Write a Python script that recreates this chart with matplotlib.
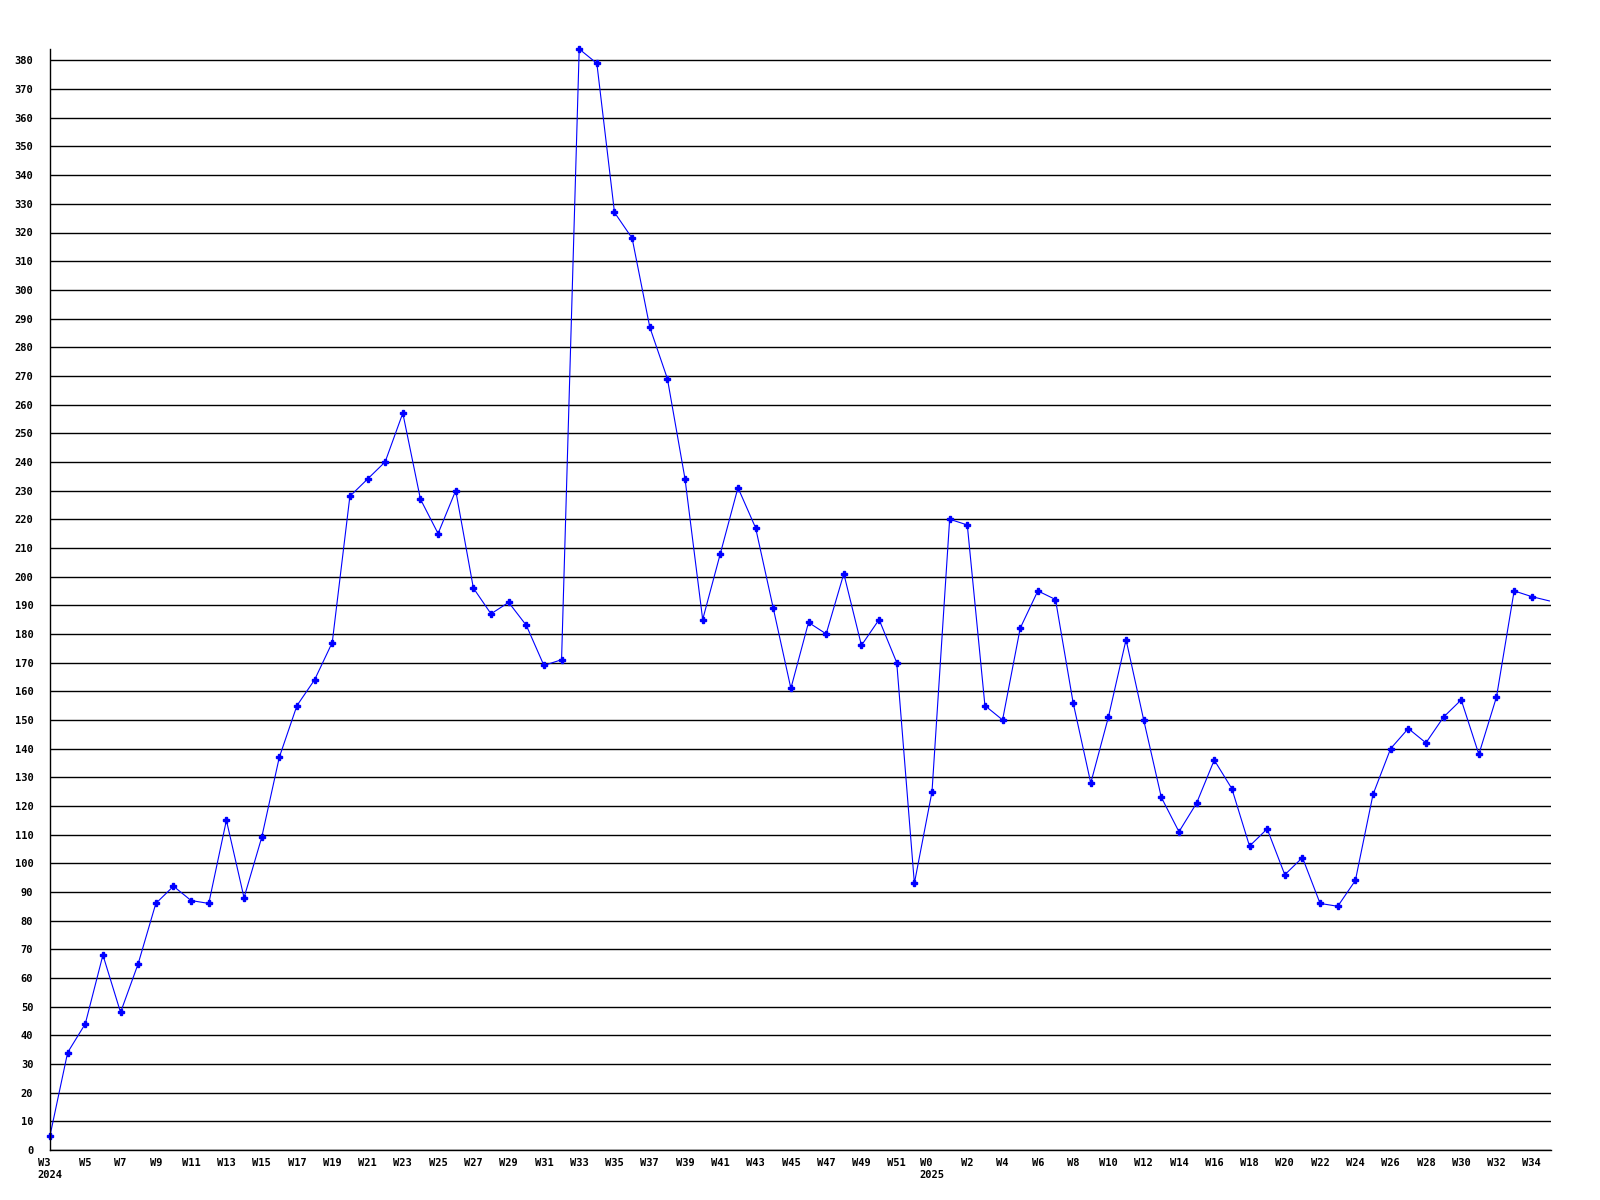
import numpy as np
import matplotlib.pyplot as plt

# weekly values, 2024 W3 .. W52, then 2025 W0 .. W35
weeks_2024 = list(range(3, 53))
weeks_2025 = list(range(0, 36))

values_2024 = [5, 34, 44, 68, 48, 65, 86, 92, 87, 86,
               115, 88, 109, 137, 155, 164, 177, 228, 234, 240,
               257, 227, 215, 230, 196, 187, 191, 183, 169, 171,
               384, 379, 327, 318, 287, 269, 234, 185, 208, 231,
               217, 189, 161, 184, 180, 201, 176, 185, 170, 93]
values_2025 = [125, 220, 218, 155, 150, 182, 195, 192, 156, 128,
               151, 178, 150, 123, 111, 121, 136, 126, 106, 112,
               96, 102, 86, 85, 94, 124, 140, 147, 142, 151,
               157, 138, 158, 195, 193, 191.5]

values = values_2024 + values_2025
labels = [f"W{w}" for w in weeks_2024] + [f"W{w}" for w in weeks_2025]
labels[0] += "\n2024"
labels[len(weeks_2024)] += "\n2025"

x = np.arange(len(values))

fig = plt.figure(figsize=(16, 12), dpi=100)
ax = fig.add_axes([50 / 1600, 50 / 1200, 1501 / 1600, 1101 / 1200])

# horizontal grid every 10
ax.set_yticks(np.arange(0, 381, 10))
ax.yaxis.grid(True, color="black", linewidth=1.0)
ax.set_axisbelow(True)

# last week is partial -> no marker
ax.plot(x, values, color="#0000ff", linewidth=0.8, marker="P",
        markersize=4, markevery=slice(0, len(values) - 1), clip_on=False)

ax.set_xlim(0, 85.09)
ax.set_ylim(0, max(values))

tick_idx = x[::2]
ax.set_xticks(tick_idx)
ax.set_xticklabels([labels[i] for i in tick_idx])

for lab in ax.get_xticklabels():
    lab.set_multialignment("left")

for lab in ax.get_xticklabels() + ax.get_yticklabels():
    lab.set_fontfamily("DejaVu Sans Mono")
    lab.set_fontweight("bold")
    lab.set_fontsize(7.5)

ax.tick_params(axis="y", length=0, pad=12)
ax.tick_params(axis="x", length=0, pad=6)

for s in ["top", "right"]:
    ax.spines[s].set_visible(False)
ax.spines["left"].set_linewidth(1.0)
ax.spines["bottom"].set_linewidth(1.0)

fig.savefig("out.png", dpi=100)
